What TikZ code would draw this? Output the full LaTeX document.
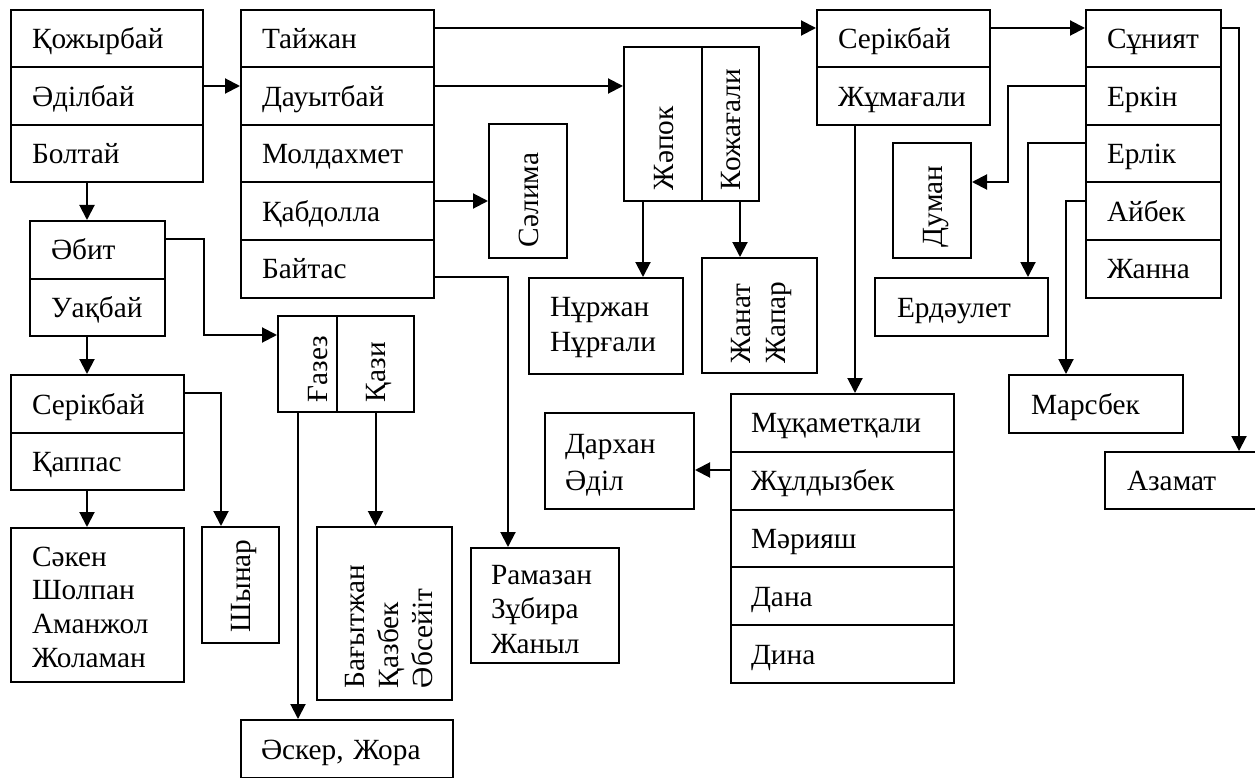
\documentclass[tikz,border=0pt]{standalone}
\usepackage{fontspec}
\setmainfont{Liberation Serif}
\usetikzlibrary{arrows.meta,calc}
\begin{document}
\begin{tikzpicture}[x=1pt,y=-1pt,line width=2pt,
  cell/.style={draw,rectangle,inner ysep=0pt,inner xsep=21pt,align=left,
    font=\fontsize{29.3pt}{34.5pt}\selectfont,text height=20pt,text depth=0pt,anchor=north west},
  vcell/.style={draw,rectangle,rotate=90,anchor=center,inner ysep=0pt,align=left,
    font=\fontsize{29.3pt}{34.5pt}\selectfont,text height=20pt,text depth=0pt},
  arr/.style={-{Triangle[length=15pt,width=15pt]}}]
\useasboundingbox (0,0) rectangle (1255,778);
\clip (0,0) rectangle (1255,778);
% Box A
\node[cell,minimum width=192pt,text width=150pt,minimum height=57.5pt] (kozh) at (10,9) {Қожырбай};
\node[cell,minimum width=192pt,text width=150pt,minimum height=57.5pt] (adil) at (10,66.5) {Әділбай};
\node[cell,minimum width=192pt,text width=150pt,minimum height=57.5pt] (bolt) at (10,124) {Болтай};
% Box B
\node[cell,minimum width=193pt,text width=151pt,minimum height=57.5pt] (taizh) at (240,9) {Тайжан};
\node[cell,minimum width=193pt,text width=151pt,minimum height=57.5pt] (dauyt) at (240,66.5) {Дауытбай};
\node[cell,minimum width=193pt,text width=151pt,minimum height=57.5pt] (moldakh) at (240,124) {Молдахмет};
\node[cell,minimum width=193pt,text width=151pt,minimum height=57.5pt] (kabd) at (240,181.5) {Қабдолла};
\node[cell,minimum width=193pt,text width=151pt,minimum height=57.5pt] (baitas) at (240,239) {Байтас};
% Box C
\node[cell,minimum width=135pt,text width=93pt,minimum height=57.5pt] (abit) at (29,220) {Әбит};
\node[cell,minimum width=135pt,text width=93pt,minimum height=57.5pt] (uakbai) at (29,277.5) {Уақбай};
% Left lower
\node[cell,minimum width=173pt,text width=131pt,minimum height=58pt] (serik1) at (10,374) {Серікбай};
\node[cell,minimum width=173pt,text width=131pt,minimum height=57pt] (kappas) at (10,432) {Қаппас};
\node[cell,minimum width=173pt,text width=131pt,minimum height=154pt,text depth=98pt,
  font=\fontsize{29.3pt}{33.7pt}\selectfont] (saken) at (10,527) {Сәкен\\Шолпан\\Аманжол\\Жоламан};
\node[vcell,minimum width=116pt,minimum height=77pt,inner xsep=11pt,text width=94pt] (shynar) at (240.5,585) {Шынар};
% Gazez / Kazi
\node[vcell,minimum width=96pt,minimum height=59pt,inner xsep=10pt,text width=76pt,text height=40pt] (gazez) at (307.5,364) {Ғазез};
\node[vcell,minimum width=96pt,minimum height=77pt,inner xsep=10pt,text width=76pt] (kazi) at (375.5,364) {Қази};
\node[vcell,minimum width=173pt,minimum height=135pt,inner xsep=12pt,text width=149pt,text depth=61pt,
  font=\fontsize{29.3pt}{34pt}\selectfont] (bagyt) at (384.5,613.5) {Бағытжан\\Қазбек\\Әбсейіт};
\node[cell,minimum width=212pt,text width=172pt,inner xsep=20pt,minimum height=58pt] (asker) at (240,719) {Әскер, Жора};
% Middle
\node[vcell,minimum width=134pt,minimum height=78pt,inner xsep=11pt,text width=112pt] (salima) at (528,191) {Сәлима};
\node[vcell,minimum width=154pt,minimum height=78pt,inner xsep=11pt,text width=132pt] (zhapok) at (663,124) {Жәпок};
\node[vcell,minimum width=154pt,minimum height=57pt,inner xsep=11pt,text width=132pt] (kozhag) at (730.5,124) {Кожағали};
\node[cell,minimum width=154pt,text width=112pt,minimum height=96pt,text depth=40pt,
  font=\fontsize{29.3pt}{35pt}\selectfont] (nurzhan) at (528,277) {Нұржан\\Нұрғали};
\node[vcell,minimum width=115pt,minimum height=115pt,inner xsep=10pt,text width=95pt,text depth=39pt,
  font=\fontsize{29.3pt}{35pt}\selectfont] (zhanat) at (759.5,315.5) {Жанат\\Жапар};
\node[cell,minimum width=148pt,text width=108pt,inner xsep=20pt,minimum height=115pt,text depth=63pt] (ramazan) at (470,547) {Рамазан\\Зұбира\\Жаныл};
% Serikbai top
\node[cell,minimum width=173pt,text width=131pt,minimum height=57.5pt] (serik2) at (816,9) {Серікбай};
\node[cell,minimum width=173pt,text width=131pt,minimum height=57.5pt] (zhumag) at (816,66.5) {Жұмағали};
% Mukametkali
\node[cell,minimum width=223pt,text width=183pt,inner xsep=20pt,minimum height=57.8pt] (mukam) at (730,393) {Мұқаметқали};
\node[cell,minimum width=223pt,text width=183pt,inner xsep=20pt,minimum height=57.8pt] (zhuldyz) at (730,450.8) {Жұлдызбек};
\node[cell,minimum width=223pt,text width=183pt,inner xsep=20pt,minimum height=57.8pt] (mariyash) at (730,508.6) {Мәрияш};
\node[cell,minimum width=223pt,text width=183pt,inner xsep=20pt,minimum height=57.8pt] (dana) at (730,566.4) {Дана};
\node[cell,minimum width=223pt,text width=183pt,inner xsep=20pt,minimum height=57.8pt] (dina) at (730,624.2) {Дина};
\node[cell,minimum width=149pt,text width=109pt,inner xsep=20pt,minimum height=96pt,text depth=36pt,
  font=\fontsize{29.3pt}{37pt}\selectfont] (darkhan) at (544,412) {Дархан\\Әділ};
% Suniyat
\node[cell,minimum width=135pt,text width=93pt,minimum height=57.5pt] (suniyat) at (1085,9) {Сұният};
\node[cell,minimum width=135pt,text width=93pt,minimum height=57.5pt] (erkin) at (1085,66.5) {Еркін};
\node[cell,minimum width=135pt,text width=93pt,minimum height=57.5pt] (erlik) at (1085,124) {Ерлік};
\node[cell,minimum width=135pt,text width=93pt,minimum height=57.5pt] (aibek) at (1085,181.5) {Айбек};
\node[cell,minimum width=135pt,text width=93pt,minimum height=57.5pt] (zhanna) at (1085,239) {Жанна};
\node[vcell,minimum width=115pt,minimum height=78pt,inner xsep=11pt,text width=93pt] (duman) at (932,200.5) {Думан};
\node[cell,minimum width=173pt,text width=129pt,inner xsep=22pt,minimum height=58pt] (erdaulet) at (874,277) {Ердәулет};
\node[cell,minimum width=174pt,text width=130pt,inner xsep=22pt,minimum height=58pt] (marsbek) at (1008,374) {Марсбек};
\node[cell,minimum width=166pt,text width=122pt,inner xsep=22pt,minimum height=57pt] (azamat) at (1104,451) {Азамат};
% Connectors
\coordinate (c1) at ($(adil.north east)+(0,19.5)$);
\draw[arr] (c1) -- (c1 -| dauyt.west);
\coordinate (c2) at ($(bolt.south west)+(77,0)$);
\draw[arr] (c2) -- (c2 |- abit.north);
\coordinate (c3) at ($(abit.north east)+(0,19)$);
\coordinate (c3b) at ($(gazez.north)+(0,-29)$);
\draw[arr] (c3) -- ++(38,0) |- (c3b);
\coordinate (c4) at ($(uakbai.south west)+(58,0)$);
\draw[arr] (c4) -- (c4 |- serik1.north);
\coordinate (c5) at ($(serik1.north east)+(0,19)$);
\coordinate (c5b) at ($(shynar.east)+(-19.5,0)$);
\draw[arr] (c5) -| (c5b);
\coordinate (c6) at ($(kappas.south west)+(77,0)$);
\draw[arr] (c6) -- (c6 |- saken.north);
\coordinate (c7) at ($(gazez.west)+(-9.5,0)$);
\draw[arr] (c7) -- (c7 |- asker.north);
\draw[arr] (kazi.west) -- (kazi.west |- bagyt.east);
\coordinate (c9) at ($(taizh.north east)+(0,19)$);
\draw[arr] (c9) -- (c9 -| serik2.west);
\coordinate (c10) at ($(dauyt.north east)+(0,19.5)$);
\draw[arr] (c10) -- (c10 -| zhapok.north);
\coordinate (c11) at ($(kabd.north east)+(0,19.5)$);
\draw[arr] (c11) -- (c11 -| salima.north);
\coordinate (c12) at ($(baitas.north east)+(0,38)$);
\coordinate (c12b) at ($(ramazan.north west)+(38,0)$);
\draw[arr] (c12) -| (c12b);
\coordinate (c13) at ($(zhapok.west)+(-20,0)$);
\draw[arr] (c13) -- (c13 |- nurzhan.north);
\coordinate (c14) at ($(kozhag.west)+(9.5,0)$);
\draw[arr] (c14) -- (c14 |- zhanat.east);
\coordinate (c15) at ($(serik2.north east)+(0,19)$);
\draw[arr] (c15) -- (c15 -| suniyat.west);
\coordinate (c16) at ($(zhumag.south west)+(39,0)$);
\draw[arr] (c16) -- (c16 |- mukam.north);
\coordinate (c17) at ($(zhuldyz.north west)+(0,19.2)$);
\draw[arr] (c17) -- (c17 -| darkhan.east);
\coordinate (c18) at ($(suniyat.north east)+(0,19)$);
\coordinate (c18b) at ($(azamat.north west)+(135,0)$);
\draw[arr] (c18) -| (c18b);
\coordinate (c19) at ($(erkin.north west)+(0,19.5)$);
\coordinate (c19b) at ($(duman.south)+(0,-18.5)$);
\draw[arr] (c19) -- ++(-77,0) |- (c19b);
\coordinate (c20) at ($(erlik.north west)+(0,19)$);
\coordinate (c20b) at ($(erdaulet.north west)+(154,0)$);
\draw[arr] (c20) -| (c20b);
\coordinate (c21) at ($(aibek.north west)+(0,19.5)$);
\coordinate (c21b) at ($(marsbek.north west)+(58,0)$);
\draw[arr] (c21) -| (c21b);
\end{tikzpicture}
\end{document}
